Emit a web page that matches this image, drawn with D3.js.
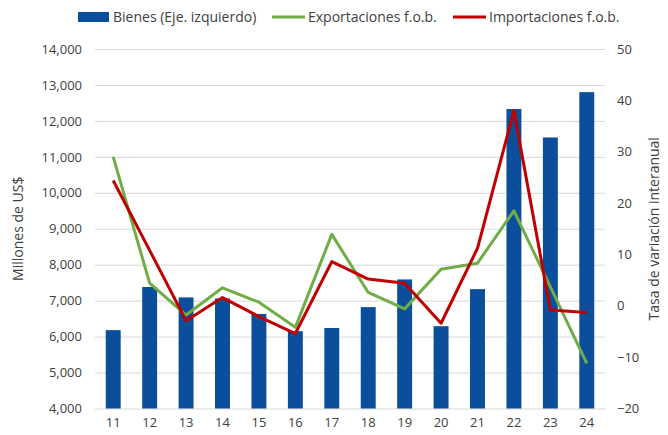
<!DOCTYPE html>
<html>
<head>
<meta charset="utf-8">
<script src="https://cdn.jsdelivr.net/npm/d3@7"></script>
<style>
  body { margin: 0; background: #fff; }
  text { font-family: "Open Sans", "Liberation Sans", sans-serif; fill: #404040; }
</style>
</head>
<body>
<div id="chart"></div>
<script>
// Data
const years = ["11", "12", "13", "14", "15", "16", "17", "18", "19", "20", "21", "22", "23", "24"];
const bienes = [6180, 7380, 7090, 7060, 6630, 6150, 6240, 6820, 7590, 6290, 7320, 12330, 11540, 12800];
const exportaciones = [29.0, 4.4, -1.8, 3.5, 0.7, -4.2, 13.9, 2.6, -0.6, 7.1, 8.3, 18.5, 3.7, -11.2];
const importaciones = [24.4, 10.8, -2.9, 1.6, -2.1, -5.4, 8.6, 5.2, 4.4, -3.4, 11.2, 38.0, -0.8, -1.3];
const leftTicks = [4000, 5000, 6000, 7000, 8000, 9000, 10000, 11000, 12000, 13000, 14000];
const rightTicks = [-20, -10, 0, 10, 20, 30, 40, 50];

const W = 668, H = 435;
const margin = { top: 49, right: 63, bottom: 26.5, left: 95 };
const width = W - margin.left - margin.right;
const height = H - margin.top - margin.bottom;

const svg = d3.select("#chart").append("svg")
  .attr("width", W).attr("height", H);

const g = svg.append("g")
  .attr("transform", `translate(${margin.left}, ${margin.top})`);

const x = d3.scaleBand().domain(years).range([0, width]).paddingInner(0.59).paddingOuter(0.295);
const xc = d => x(d) + x.bandwidth() / 2;
const yL = d3.scaleLinear().domain([4000, 14000]).range([height, 0]);
const yR = d3.scaleLinear().domain([-20, 50]).range([height, 0]);

// Gridlines
g.append("g")
  .call(d3.axisLeft(yL).tickValues(leftTicks).tickSize(-width).tickFormat(""))
  .call(s => s.select(".domain").remove())
  .call(s => s.selectAll("line").attr("stroke", "#d9d9d9").attr("stroke-width", 1));

// Left axis labels
g.append("g")
  .call(d3.axisLeft(yL).tickValues(leftTicks).tickSize(0).tickPadding(13).tickFormat(d3.format(",")))
  .call(s => s.select(".domain").remove())
  .call(s => s.selectAll("text").attr("font-size", 13).style("fill", "#404040")
    .style("font-family", "'Open Sans', 'Liberation Sans', sans-serif"));

// Right axis labels
g.append("g")
  .attr("transform", `translate(${width}, 0)`)
  .call(d3.axisRight(yR).tickValues(rightTicks).tickSize(0).tickPadding(12).tickFormat(d3.format("d")))
  .call(s => s.select(".domain").remove())
  .call(s => s.selectAll("text").attr("font-size", 13).style("fill", "#404040")
    .style("font-family", "'Open Sans', 'Liberation Sans', sans-serif"));

// X axis labels
g.append("g")
  .attr("transform", `translate(0, ${height})`)
  .call(d3.axisBottom(x).tickSize(0).tickPadding(9))
  .call(s => s.select(".domain").remove())
  .call(s => s.selectAll("text").attr("font-size", 13).style("fill", "#404040")
    .style("font-family", "'Open Sans', 'Liberation Sans', sans-serif"));

// Bars
g.append("g").selectAll("rect")
  .data(bienes)
  .enter()
  .append("rect")
  .attr("x", (d, i) => x(years[i]))
  .attr("y", d => yL(d))
  .attr("width", x.bandwidth())
  .attr("height", d => height - yL(d))
  .attr("fill", "#0b4e9c");

// Lines
const lineGen = d3.line().x((d, i) => xc(years[i])).y(d => yR(d));

g.append("path")
  .datum(exportaciones)
  .attr("d", lineGen)
  .attr("fill", "none")
  .attr("stroke", "#70ad47")
  .attr("stroke-width", 3)
  .attr("stroke-linejoin", "round");

g.append("path")
  .datum(importaciones)
  .attr("d", lineGen)
  .attr("fill", "none")
  .attr("stroke", "#c00000")
  .attr("stroke-width", 3)
  .attr("stroke-linejoin", "round");

// Axis titles
svg.append("text")
  .attr("text-anchor", "middle")
  .attr("transform", `translate(23, ${margin.top + height / 2}) rotate(-90)`)
  .attr("font-size", 14)
  .text("Millones de US$");

svg.append("text")
  .attr("text-anchor", "middle")
  .attr("transform", `translate(659, ${margin.top + height / 2}) rotate(-90)`)
  .attr("font-size", 14)
  .text("Tasa de variación interanual");

// Legend
const legend = svg.append("g").attr("transform", "translate(0, 17)");
legend.append("rect").attr("x", 78).attr("y", -5).attr("width", 31).attr("height", 10).attr("fill", "#0b4e9c");
legend.append("text").attr("x", 113).attr("y", 5).attr("font-size", 14).text("Bienes (Eje. izquierdo)");
legend.append("line").attr("x1", 272).attr("x2", 305).attr("y1", 0).attr("y2", 0)
  .attr("stroke", "#70ad47").attr("stroke-width", 3);
legend.append("text").attr("x", 308).attr("y", 5).attr("font-size", 14).text("Exportaciones f.o.b.");
legend.append("line").attr("x1", 453).attr("x2", 486).attr("y1", 0).attr("y2", 0)
  .attr("stroke", "#c00000").attr("stroke-width", 3);
legend.append("text").attr("x", 489).attr("y", 5).attr("font-size", 14).text("Importaciones f.o.b.");
</script>
</body>
</html>
